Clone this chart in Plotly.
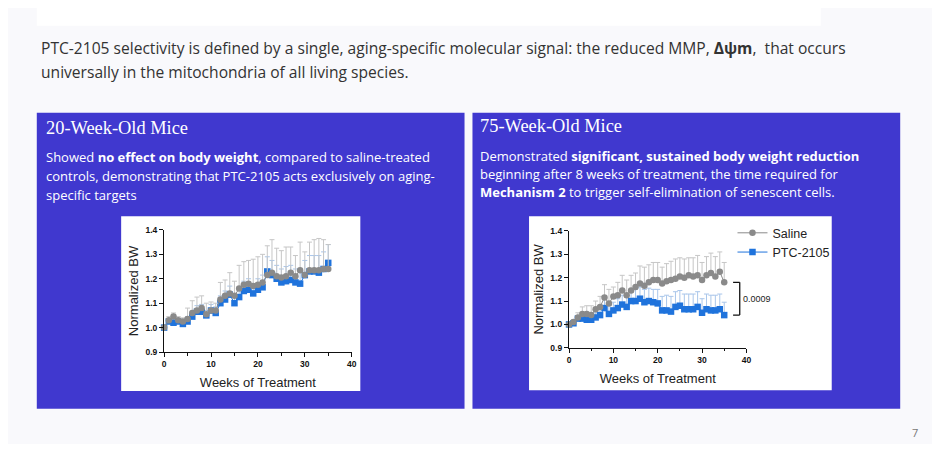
import plotly.graph_objects as go

# weeks of treatment (0..35)
weeks = list(range(36))

# 20-week-old mice
saline_20 = [1.00, 1.03, 1.045, 1.03, 1.025, 1.035, 1.06, 1.07, 1.08, 1.055, 1.07, 1.07,
             1.115, 1.13, 1.14, 1.13, 1.16, 1.175, 1.18, 1.17, 1.175, 1.185, 1.215, 1.225,
             1.21, 1.205, 1.21, 1.225, 1.21, 1.235, 1.215, 1.235, 1.235, 1.235, 1.24, 1.24]
saline_20_err = [0.0, 0.015, 0.015, 0.015, 0.015, 0.045, 0.05, 0.055, 0.05, 0.045, 0.035, 0.03,
                 0.07, 0.065, 0.085, 0.06, 0.095, 0.095, 0.095, 0.11, 0.115, 0.115, 0.12, 0.135,
                 0.115, 0.11, 0.12, 0.105, 0.085, 0.115, 0.095, 0.115, 0.125, 0.13, 0.12, 0.10]
ptc_20 = [1.00, 1.025, 1.02, 1.025, 1.015, 1.025, 1.045, 1.065, 1.065, 1.05, 1.07, 1.06,
          1.10, 1.115, 1.135, 1.10, 1.125, 1.15, 1.155, 1.14, 1.155, 1.165, 1.23, 1.215,
          1.20, 1.185, 1.19, 1.195, 1.185, 1.18, 1.215, 1.23, 1.23, 1.225, 1.24, 1.265]
ptc_20_err = [0.0, 0.01, 0.015, 0.01, 0.01, 0.02, 0.02, 0.025, 0.03, 0.02, 0.025, 0.025,
              0.03, 0.035, 0.035, 0.03, 0.04, 0.04, 0.045, 0.04, 0.045, 0.05, 0.06, 0.06,
              0.055, 0.055, 0.06, 0.06, 0.055, 0.06, 0.06, 0.065, 0.065, 0.07, 0.07, 0.075]

# 75-week-old mice
saline_75 = [1.00, 1.01, 1.03, 1.045, 1.045, 1.04, 1.065, 1.075, 1.115, 1.09, 1.12, 1.125,
             1.145, 1.125, 1.145, 1.16, 1.175, 1.165, 1.18, 1.19, 1.19, 1.175, 1.185, 1.19,
             1.195, 1.205, 1.20, 1.21, 1.205, 1.21, 1.19, 1.21, 1.22, 1.205, 1.225, 1.18]
saline_75_err = [0.0, 0.01, 0.02, 0.03, 0.035, 0.04, 0.035, 0.045, 0.055, 0.06, 0.04, 0.055,
                 0.065, 0.065, 0.065, 0.06, 0.075, 0.08, 0.075, 0.075, 0.075, 0.07, 0.075, 0.08,
                 0.085, 0.08, 0.08, 0.075, 0.08, 0.085, 0.075, 0.08, 0.085, 0.085, 0.085, 0.085]
ptc_75 = [1.00, 1.005, 1.025, 1.025, 1.02, 1.02, 1.03, 1.04, 1.07, 1.045, 1.06, 1.07,
          1.085, 1.075, 1.10, 1.10, 1.11, 1.095, 1.10, 1.095, 1.09, 1.06, 1.06, 1.055,
          1.075, 1.08, 1.065, 1.065, 1.065, 1.075, 1.05, 1.065, 1.06, 1.06, 1.065, 1.04]
ptc_75_err = [0.0, 0.01, 0.01, 0.015, 0.015, 0.02, 0.02, 0.025, 0.04, 0.035, 0.035, 0.04,
              0.04, 0.04, 0.05, 0.05, 0.05, 0.055, 0.055, 0.055, 0.06, 0.06, 0.065, 0.065,
              0.065, 0.065, 0.065, 0.065, 0.065, 0.065, 0.06, 0.065, 0.065, 0.065, 0.065, 0.055]
p_value = "0.0009"

# page is 940x452 but the body keeps its 8px margin, so the figure is 16px smaller
PAGE_MARGIN = 8
W, H = 940 - 2 * PAGE_MARGIN, 452 - 2 * PAGE_MARGIN
BLUE_PANEL = "#4038cf"
GRAY = "#8a8a8a"
BLUE = "#1f73dc"


def px(x):
    # page pixel -> paper fraction
    return (x - PAGE_MARGIN) / W


def py(y):
    return 1 - (y - PAGE_MARGIN) / H


fig = go.Figure()


def add_pair(xa, ya, sal, sal_err, ptc, ptc_err, legend):
    zeros = [0] * len(weeks)
    fig.add_trace(go.Scatter(
        x=weeks, y=ptc, xaxis=xa, yaxis=ya, name="PTC-2105", mode="lines+markers",
        marker=dict(symbol="square", size=6.5, color=BLUE),
        line=dict(color=BLUE, width=1),
        error_y=dict(type="data", symmetric=False, array=ptc_err, arrayminus=zeros,
                     color="#a9c6ea", thickness=1, width=2.5),
        cliponaxis=False, showlegend=legend, legendrank=2))
    fig.add_trace(go.Scatter(
        x=weeks, y=sal, xaxis=xa, yaxis=ya, name="Saline", mode="lines+markers",
        marker=dict(symbol="circle", size=6.5, color=GRAY),
        line=dict(color=GRAY, width=1),
        error_y=dict(type="data", symmetric=False, array=sal_err, arrayminus=zeros,
                     color="#c6c6c6", thickness=1, width=2.5),
        cliponaxis=False, showlegend=legend, legendrank=1))


add_pair("x", "y", saline_20, saline_20_err, ptc_20, ptc_20_err, False)
add_pair("x2", "y2", saline_75, saline_75_err, ptc_75, ptc_75_err, True)

axis_font = dict(family="Liberation Sans, Arial", size=8.5, color="#111")
title_font = dict(family="Liberation Sans, Arial", size=13, color="#222")
xcommon = dict(range=[0, 40], dtick=10, showgrid=False, zeroline=False, showline=True,
               linecolor="#111", linewidth=1.3, ticks="outside", ticklen=4, tickwidth=1.3,
               tickcolor="#111", tickfont=axis_font, tickprefix="<b>", ticksuffix="</b>",
               minor=dict(ticks="outside", dtick=5, ticklen=2.5, tickcolor="#111"),
               title=dict(text="Weeks of Treatment", font=title_font, standoff=9))
ycommon = dict(range=[0.9, 1.4], dtick=0.1, tickformat=".1f", showgrid=False, zeroline=False,
               showline=True, linecolor="#111", linewidth=1.3, ticks="outside", ticklen=4,
               tickwidth=1.3, tickcolor="#111", tickfont=axis_font, tickprefix="<b>",
               ticksuffix="</b>",
               title=dict(text="Normalized BW", font=title_font, standoff=3))

fig.update_layout(
    width=W, height=H, margin=dict(l=0, r=0, t=0, b=0),
    paper_bgcolor="#f9f9fc", plot_bgcolor="rgba(0,0,0,0)",
    xaxis=dict(xcommon, domain=[px(163.3), px(352.3)], anchor="y"),
    yaxis=dict(ycommon, domain=[py(355), py(230)], anchor="x"),
    xaxis2=dict(xcommon, domain=[px(571.3), px(750)], anchor="y2"),
    yaxis2=dict(ycommon, domain=[py(350.7), py(231)], anchor="x2"),
    legend=dict(x=px(736), y=py(218), xanchor="left", yanchor="top",
                font=dict(family="Liberation Sans, Arial", size=12.5, color="#222"),
                bgcolor="rgba(0,0,0,0)", itemwidth=30, tracegroupgap=0,
                traceorder="normal"),
)

# slide background shapes
shapes = [
    dict(type="rect", xref="paper", yref="paper", x0=px(35), x1=px(825), y0=py(21), y1=1.05,
         fillcolor="white", line=dict(width=0), layer="below"),
    dict(type="rect", xref="paper", yref="paper", x0=px(35), x1=px(466), y0=py(413), y1=py(110),
         fillcolor=BLUE_PANEL, line=dict(width=0), layer="below"),
    dict(type="rect", xref="paper", yref="paper", x0=px(474), x1=px(905), y0=py(413), y1=py(110),
         fillcolor=BLUE_PANEL, line=dict(width=0), layer="below"),
    dict(type="rect", xref="paper", yref="paper", x0=px(120), x1=px(361), y0=py(395), y1=py(216),
         fillcolor="white", line=dict(width=0), layer="below"),
    dict(type="rect", xref="paper", yref="paper", x0=px(531), x1=px(836), y0=py(394), y1=py(216),
         fillcolor="white", line=dict(width=0), layer="below"),
]
# significance bracket between the final means
for yv in [saline_75[-1], ptc_75[-1]]:
    shapes.append(dict(type="line", xref="x2", yref="y2", x0=37.0, x1=38.5, y0=yv, y1=yv,
                       line=dict(color="#111", width=1.3)))
shapes.append(dict(type="line", xref="x2", yref="y2", x0=38.5, x1=38.5,
                   y0=ptc_75[-1], y1=saline_75[-1], line=dict(color="#111", width=1.3)))
fig.update_layout(shapes=shapes)

body = "Open Sans, sans-serif"
serif = "Liberation Serif, serif"
annots = [
    (37, 44, "PTC-2105 selectivity is defined by a single, aging-specific molecular signal: the reduced MMP, "
             "<b>Δψm</b>,  that occurs", body, 15.6, "#333"),
    (37, 68, "universally in the mitochondria of all living species.", body, 15.6, "#333"),
    (42, 126, "20-Week-Old Mice", serif, 18.4, "white"),
    (42, 155, "Showed <b>no effect on body weight</b>, compared to saline-treated", body, 13, "white"),
    (42, 175, "controls, demonstrating that PTC-2105 acts exclusively on aging-", body, 13, "white"),
    (42, 194, "specific targets", body, 13, "white"),
    (480, 124, "75-Week-Old Mice", serif, 18.4, "white"),
    (480, 154, "Demonstrated <b>significant, sustained body weight reduction</b>", body, 13, "white"),
    (480, 173, "beginning after 8 weeks of treatment, the time required for", body, 13, "white"),
    (480, 191, "<b>Mechanism 2</b> to trigger self-elimination of senescent cells.", body, 13, "white"),
    (915, 437, "7", body, 11, "#777"),
]
for x, y, text, fam, size, col in annots:
    fig.add_annotation(x=px(x), y=py(y), xref="paper", yref="paper", text=text, showarrow=False,
                       xanchor="left", yanchor="middle", font=dict(family=fam, size=size, color=col))

fig.add_annotation(x=38.7, y=(saline_75[-1] + ptc_75[-1]) / 2, xref="x2", yref="y2", text=p_value,
                   showarrow=False, xanchor="left", yanchor="middle",
                   font=dict(family="Liberation Sans, Arial", size=9, color="#222"))

fig.write_html("out.html")
